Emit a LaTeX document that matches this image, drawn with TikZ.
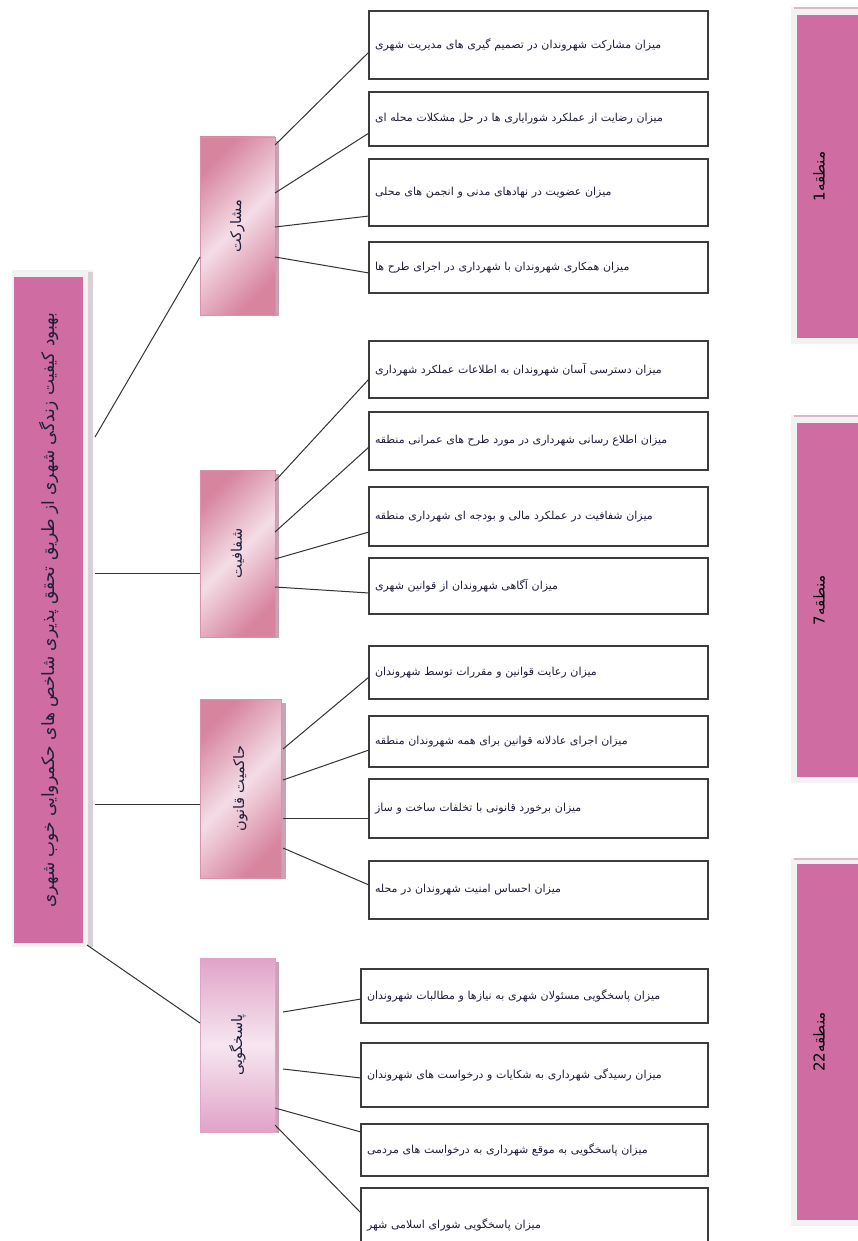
\documentclass[tikz,border=0pt]{standalone}
\usepackage{fontspec}
\usepackage{graphicx}
\usetikzlibrary{calc}
\TeXXeTstate=1
\newfontfamily\fa[Script=Arabic]{DejaVu Sans}
\definecolor{rootpink}{HTML}{CF6CA1}
\definecolor{framegrey}{HTML}{F2F2F2}
\definecolor{frameshadow}{HTML}{D8D0D4}
\definecolor{frametop}{HTML}{DDB8C8}
\definecolor{midpink}{HTML}{D7849F}
\definecolor{midlight}{HTML}{F4DDE6}
\definecolor{midline}{HTML}{DC90AE}
\definecolor{midshadow}{HTML}{C9A3B4}
\definecolor{pdark}{HTML}{E0A3C8}
\definecolor{plight}{HTML}{F6E6F0}
\definecolor{leafline}{HTML}{3C3C3C}
\definecolor{connline}{HTML}{333333}
\definecolor{txt}{HTML}{1E1E3C}
\newcommand\fatext[1]{{\fa\beginR #1\endR}}
\newcommand\rottext[1]{\rotatebox{90}{\fa\beginR #1\endR}}
\tikzset{
  rootbox/.style={fill=rootpink, inner sep=0pt, outer sep=0pt, font=\fontsize{17}{20}\selectfont, text=txt},
  zonebox/.style={fill=rootpink, inner sep=0pt, outer sep=0pt, font=\fontsize{15}{18}\selectfont, text=black},
  midbox/.style={top color=midpink, bottom color=midpink, middle color=midlight, shading angle=45,
     draw=midline, line width=0.6pt, inner sep=0pt, outer sep=0pt, font=\fontsize{14.5}{17}\selectfont, text=txt},
  pbox/.style={midbox, top color=pdark, bottom color=pdark, middle color=plight, draw=pdark},
  leaf/.style={draw=leafline, line width=1.3pt, fill=white, inner xsep=6pt, inner ysep=0pt, outer sep=0pt,
     align=left, font=\fontsize{11}{13}\selectfont, text=txt},
  conn/.style={draw=connline, line width=1pt},
}
\begin{document}
\begin{tikzpicture}[x=1pt,y=-1pt]
\clip (0,0) rectangle (858,1241);
\fill[white] (0,0) rectangle (858,1241);

% root
\fill[framegrey] (12,270) rectangle (93,947);
\fill[frameshadow] (88,272) rectangle (93,947);
\node[rootbox, minimum width=69pt, minimum height=666pt] (root) at (48.5,610)
  {\rottext{بهبود کیفیت زندگی شهری از طریق تحقق پذیری شاخص های حکمروایی خوب شهری}};

% level 2
\fill[midshadow] (275,141) rectangle (279,316);
\node[midbox, minimum width=75pt, minimum height=178pt] (m) at (237.5,226) {\rottext{مشارکت}};
\fill[midshadow] (275,474) rectangle (279,638);
\node[midbox, minimum width=75pt, minimum height=167pt] (s) at (237.5,553.5) {\rottext{شفافیت}};
\fill[midshadow] (281,703) rectangle (286,879);
\node[midbox, minimum width=81pt, minimum height=179pt] (h) at (240.5,788.5) {\rottext{حاکمیت قانون}};
\fill[midshadow] (275,962) rectangle (279,1133);
\node[pbox, minimum width=75pt, minimum height=174pt] (p) at (237.5,1045) {\rottext{پاسخگویی}};

% zones
\foreach \a/\b in {7/344, 415/783, 858/1226}{
  \fill[framegrey] (791,\a) rectangle (862,\b);
  \fill[frametop] (794,\a) rectangle (862,\a+2);
}
\node[zonebox, minimum width=65pt, minimum height=323pt] (z1) at (829.5,176.5) {\rottext{منطقه1}\rule{21pt}{0pt}};
\node[zonebox, minimum width=65pt, minimum height=354pt] (z2) at (829.5,600) {\rottext{منطقه7}\rule{21pt}{0pt}};
\node[zonebox, minimum width=65pt, minimum height=356pt] (z3) at (829.5,1042) {\rottext{منطقه22}\rule{21pt}{0pt}};

% leaves
\begin{scope}[every node/.append style={leaf, minimum width=339pt, text width=327pt}]
\node[minimum height=68pt] (m1) at (538.5,45) {\fatext{میزان مشارکت شهروندان در تصمیم گیری های مدیریت شهری}};
\node[minimum height=54pt] (m2) at (538.5,119) {\fatext{میزان رضایت از عملکرد شورایاری ها در حل مشکلات محله ای}};
\node[minimum height=67pt] (m3) at (538.5,192.5) {\fatext{میزان عضویت در نهادهای مدنی و انجمن های محلی}};
\node[minimum height=51pt] (m4) at (538.5,267.5) {\fatext{میزان همکاری شهروندان با شهرداری در اجرای طرح ها}};
\node[minimum height=57pt] (s1) at (538.5,369.5) {\fatext{میزان دسترسی آسان شهروندان به اطلاعات عملکرد شهرداری}};
\node[minimum height=58pt] (s2) at (538.5,441) {\fatext{میزان اطلاع رسانی شهرداری در مورد طرح های عمرانی منطقه}};
\node[minimum height=59pt] (s3) at (538.5,516.5) {\fatext{میزان شفافیت در عملکرد مالی و بودجه ای شهرداری منطقه}};
\node[minimum height=56pt] (s4) at (538.5,586) {\fatext{میزان آگاهی شهروندان از قوانین شهری}};
\node[minimum height=53pt] (h1) at (538.5,672.5) {\fatext{میزان رعایت قوانین و مقررات توسط شهروندان}};
\node[minimum height=51pt] (h2) at (538.5,741.5) {\fatext{میزان اجرای عادلانه قوانین برای همه شهروندان منطقه}};
\node[minimum height=59pt] (h3) at (538.5,808.5) {\fatext{میزان برخورد قانونی با تخلفات ساخت و ساز}};
\node[minimum height=58pt] (h4) at (538.5,890) {\fatext{میزان احساس امنیت شهروندان در محله}};
\end{scope}
\begin{scope}[every node/.append style={leaf, minimum width=347pt, text width=335pt}]
\node[minimum height=54pt] (p1) at (534.5,996) {\fatext{میزان پاسخگویی مسئولان شهری به نیازها و مطالبات شهروندان}};
\node[minimum height=64pt] (p2) at (534.5,1075) {\fatext{میزان رسیدگی شهرداری به شکایات و درخواست های شهروندان}};
\node[minimum height=52pt] (p3) at (534.5,1150) {\fatext{میزان پاسخگویی به موقع شهرداری به درخواست های مردمی}};
\node[minimum height=74pt] (p4) at (534.5,1225) {\fatext{میزان پاسخگویی شورای اسلامی شهر}};
\end{scope}

% root connectors
\draw[conn] ($(root.north east)+(12,160)$) -- ($(m.north west)+(0,120)$);
\draw[conn] ($(root.north east)+(12,296)$) -- ($(s.north west)+(0,103)$);
\draw[conn] ($(root.north east)+(12,527)$) -- ($(h.north west)+(0,105)$);
\draw[conn] ($(root.south east)+(4,2)$) -- ($(p.north west)+(0,65)$);

% level-2 connectors
\draw[conn] ($(m.north east)+(0,8)$)   -- ($(m1.north west)+(0,41)$);
\draw[conn] ($(m.north east)+(0,56)$)  -- ($(m2.north west)+(0,41)$);
\draw[conn] ($(m.north east)+(0,90)$)  -- ($(m3.north west)+(0,57)$);
\draw[conn] ($(m.north east)+(0,120)$) -- ($(m4.north west)+(0,31)$);
\draw[conn] ($(s.north east)+(0,11)$)  -- ($(s1.north west)+(0,38)$);
\draw[conn] ($(s.north east)+(0,62)$)  -- ($(s2.north west)+(0,35)$);
\draw[conn] ($(s.north east)+(0,89)$)  -- ($(s3.north west)+(0,45)$);
\draw[conn] ($(s.north east)+(0,117)$) -- ($(s4.north west)+(0,35)$);
\draw[conn] ($(h.north east)+(2,50)$)  -- ($(h1.north west)+(0,31)$);
\draw[conn] ($(h.north east)+(2,81)$)  -- ($(h2.north west)+(0,34)$);
\draw[conn] ($(h.north east)+(2,119)$) -- ($(h3.north west)+(0,39)$);
\draw[conn] ($(h.north east)+(2,149)$) -- ($(h4.north west)+(0,24)$);
\draw[conn] ($(p.north east)+(8,54)$)  -- ($(p1.north west)+(0,30)$);
\draw[conn] ($(p.north east)+(8,111)$) -- ($(p2.north west)+(0,35)$);
\draw[conn] ($(p.north east)+(0,150)$) -- ($(p3.north west)+(0,8)$);
\draw[conn] ($(p.north east)+(0,167)$) -- ($(p4.north west)+(0,25)$);
\end{tikzpicture}
\end{document}
